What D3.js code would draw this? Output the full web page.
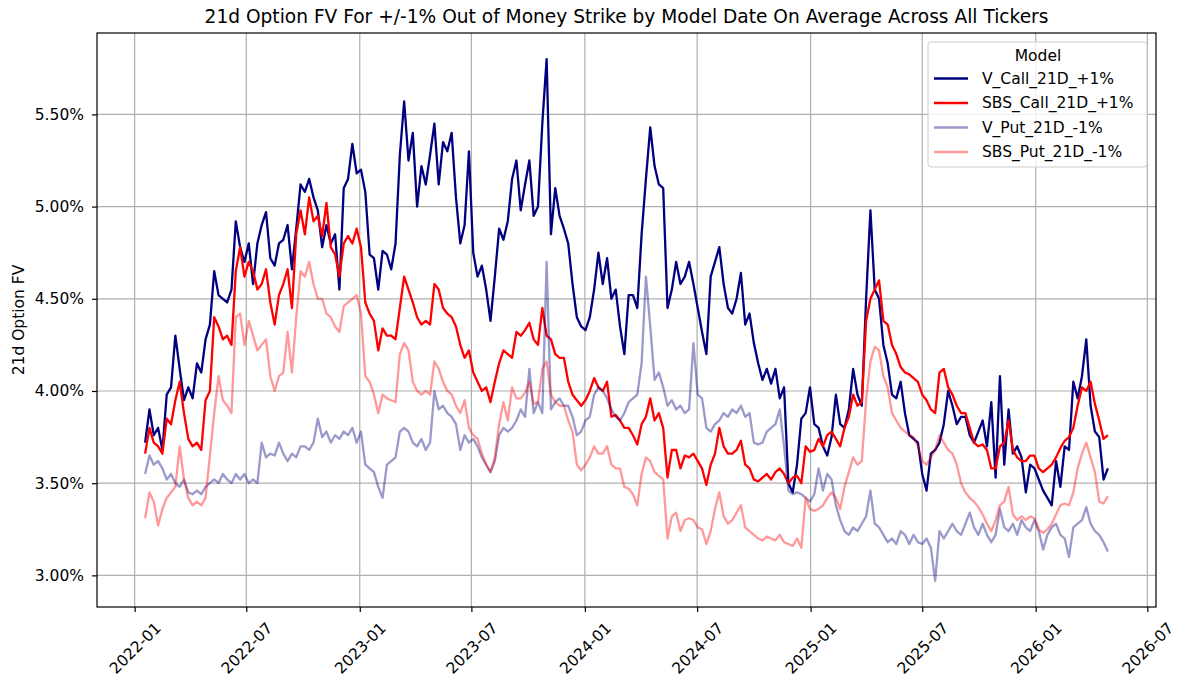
<!DOCTYPE html>
<html>
<head>
<meta charset="utf-8">
<script src="https://cdn.jsdelivr.net/npm/d3@7"></script>
<style>
body { margin: 0; background: #fff; }
svg text { font-family: "DejaVu Sans", sans-serif; fill: #000; }
</style>
</head>
<body>
<svg width="1177" height="682"></svg>
<script>
// weekly samples, starting 2022-01-18
var startDate = new Date(2022, 0, 18);
var stepDays = 7;

var vCall = [
  3.72,3.90,3.76,3.80,3.68,3.98,4.02,4.30,4.12,3.95,
  4.02,3.96,4.15,4.10,4.28,4.36,4.65,4.52,4.50,4.48,
  4.55,4.92,4.78,4.70,4.80,4.58,4.80,4.90,4.97,4.72,
  4.68,4.80,4.82,4.90,4.66,4.88,5.12,5.08,5.15,5.05,
  4.98,4.78,4.90,4.80,4.85,4.55,5.10,5.15,5.34,5.18,
  5.20,5.08,4.74,4.72,4.55,4.76,4.74,4.66,4.80,5.28,
  5.57,5.25,5.40,5.00,5.22,5.12,5.28,5.45,5.12,5.35,
  5.30,5.40,5.05,4.80,4.90,5.30,4.75,4.62,4.68,4.55,
  4.38,4.62,4.88,4.82,4.92,5.15,5.25,4.98,5.12,5.25,
  4.95,5.00,5.45,5.80,4.85,5.10,4.95,4.88,4.80,4.58,
  4.40,4.35,4.33,4.40,4.55,4.75,4.58,4.72,4.50,4.55,
  4.35,4.20,4.52,4.52,4.45,4.85,5.15,5.43,5.22,5.12,
  5.10,4.45,4.55,4.70,4.58,4.62,4.70,4.58,4.45,4.32,
  4.20,4.62,4.70,4.78,4.58,4.45,4.42,4.50,4.64,4.36,
  4.42,4.26,4.15,4.06,4.12,4.04,4.12,3.96,4.02,3.50,
  3.45,3.60,3.85,3.88,4.02,3.82,3.80,3.70,3.65,3.75,
  3.98,3.82,3.80,3.90,4.12,3.98,3.92,4.50,4.98,4.55,
  4.50,4.25,4.15,3.98,3.96,4.05,3.88,3.76,3.74,3.72,
  3.55,3.46,3.66,3.68,3.72,3.82,4.00,3.92,3.82,3.86,
  3.86,3.76,3.72,3.78,3.84,3.70,3.94,3.53,4.08,3.60,
  3.90,3.66,3.70,3.64,3.45,3.60,3.58,3.52,3.46,3.42,
  3.38,3.62,3.48,3.70,3.68,4.05,3.96,4.08,4.28,3.92,
  3.78,3.75,3.52,3.58
];

var sbsCall = [
  3.66,3.80,3.72,3.70,3.66,3.85,3.82,3.95,4.05,3.88,
  3.74,3.70,3.72,3.68,3.95,4.00,4.40,4.35,4.28,4.30,
  4.25,4.65,4.78,4.62,4.70,4.65,4.55,4.58,4.66,4.48,
  4.36,4.52,4.58,4.66,4.45,4.85,4.98,4.85,5.05,4.92,
  4.95,4.84,5.02,4.78,4.74,4.62,4.80,4.84,4.80,4.88,
  4.78,4.48,4.42,4.38,4.22,4.34,4.30,4.30,4.28,4.45,
  4.62,4.55,4.48,4.40,4.36,4.38,4.36,4.58,4.55,4.45,
  4.42,4.40,4.35,4.25,4.18,4.22,4.10,4.05,4.00,4.02,
  3.94,4.05,4.15,4.22,4.20,4.18,4.32,4.30,4.33,4.37,
  4.28,4.25,4.45,4.30,4.28,4.20,4.18,4.18,4.05,3.98,
  3.95,3.92,3.95,4.00,4.07,4.02,4.00,4.05,3.86,3.87,
  3.84,3.80,3.80,3.76,3.71,3.82,3.86,3.96,3.84,3.88,
  3.80,3.53,3.68,3.68,3.58,3.65,3.64,3.66,3.62,3.58,
  3.49,3.60,3.66,3.80,3.70,3.66,3.66,3.68,3.73,3.60,
  3.58,3.52,3.51,3.53,3.55,3.52,3.56,3.58,3.55,3.50,
  3.53,3.54,3.50,3.70,3.67,3.68,3.74,3.70,3.76,3.78,
  3.74,3.70,3.80,3.86,3.98,3.92,3.94,4.38,4.50,4.55,
  4.60,4.38,4.36,4.25,4.20,4.13,4.10,4.09,4.07,4.05,
  3.98,3.95,3.90,3.88,4.10,4.12,4.02,3.98,3.92,3.88,
  3.88,3.80,3.72,3.70,3.71,3.68,3.58,3.58,3.70,3.72,
  3.84,3.68,3.64,3.62,3.62,3.65,3.65,3.58,3.56,3.58,
  3.60,3.64,3.69,3.73,3.75,3.80,3.92,4.02,4.00,4.05,
  3.93,3.84,3.74,3.76
];

var vPut = [
  3.55,3.65,3.60,3.62,3.58,3.52,3.55,3.50,3.48,3.52,
  3.45,3.44,3.46,3.44,3.48,3.50,3.52,3.50,3.55,3.52,
  3.50,3.55,3.52,3.55,3.50,3.52,3.50,3.72,3.64,3.66,
  3.65,3.72,3.66,3.62,3.66,3.64,3.70,3.70,3.68,3.72,
  3.85,3.75,3.78,3.72,3.76,3.74,3.78,3.76,3.80,3.72,
  3.78,3.60,3.58,3.56,3.48,3.42,3.60,3.62,3.64,3.78,
  3.80,3.78,3.72,3.70,3.74,3.68,3.72,4.00,3.90,3.92,
  3.88,3.86,3.82,3.68,3.76,3.72,3.74,3.70,3.64,3.60,
  3.56,3.62,3.76,3.80,3.78,3.80,3.84,3.90,3.86,4.12,
  3.88,3.94,3.88,4.70,3.90,3.94,3.96,3.92,3.92,3.86,
  3.76,3.78,3.84,3.86,3.98,4.02,4.00,3.96,3.90,3.86,
  3.84,3.88,3.94,3.96,3.98,4.15,4.62,4.35,4.06,4.10,
  4.02,3.92,3.95,3.90,3.92,3.88,3.90,4.26,3.98,3.96,
  3.80,3.78,3.82,3.84,3.88,3.86,3.90,3.88,3.92,3.86,
  3.88,3.72,3.71,3.72,3.78,3.80,3.82,3.90,3.70,3.46,
  3.44,3.45,3.44,3.42,3.40,3.44,3.58,3.46,3.55,3.52,
  3.38,3.30,3.24,3.22,3.26,3.24,3.28,3.32,3.46,3.28,
  3.26,3.22,3.18,3.20,3.17,3.24,3.22,3.17,3.22,3.18,
  3.17,3.20,3.15,2.97,3.24,3.20,3.24,3.28,3.24,3.22,
  3.28,3.34,3.26,3.22,3.28,3.22,3.18,3.22,3.36,3.26,
  3.24,3.28,3.22,3.30,3.26,3.24,3.30,3.24,3.14,3.22,
  3.26,3.28,3.22,3.20,3.10,3.26,3.28,3.30,3.37,3.28,
  3.24,3.22,3.18,3.13
];

var sbsPut = [
  3.31,3.45,3.40,3.27,3.36,3.42,3.45,3.48,3.70,3.52,
  3.42,3.38,3.40,3.38,3.42,3.65,3.88,4.08,3.95,3.92,
  3.88,4.40,4.42,4.25,4.38,4.30,4.22,4.25,4.28,4.08,
  4.00,4.08,4.10,4.32,4.10,4.40,4.65,4.62,4.70,4.58,
  4.50,4.50,4.42,4.40,4.35,4.32,4.46,4.48,4.50,4.52,
  4.42,4.08,4.05,3.98,3.88,3.98,3.96,3.95,3.94,4.20,
  4.26,4.22,4.05,4.00,3.98,4.00,3.98,4.16,4.12,4.05,
  4.00,3.98,3.92,3.88,3.95,3.80,3.76,3.74,3.66,3.60,
  3.56,3.64,3.82,3.94,3.84,4.02,3.96,3.96,3.99,4.05,
  3.93,3.94,4.12,4.16,3.98,3.94,3.92,3.92,3.84,3.78,
  3.60,3.57,3.60,3.64,3.70,3.66,3.66,3.70,3.60,3.58,
  3.58,3.48,3.47,3.44,3.38,3.55,3.64,3.62,3.56,3.54,
  3.52,3.20,3.32,3.34,3.24,3.30,3.31,3.30,3.26,3.25,
  3.17,3.24,3.36,3.45,3.32,3.28,3.30,3.34,3.38,3.26,
  3.24,3.22,3.20,3.19,3.21,3.20,3.19,3.22,3.18,3.17,
  3.16,3.20,3.15,3.42,3.36,3.35,3.36,3.38,3.42,3.45,
  3.42,3.36,3.48,3.56,3.64,3.60,3.62,3.95,4.16,4.24,
  4.22,4.08,4.02,3.88,3.84,3.80,3.78,3.76,3.75,3.70,
  3.62,3.60,3.64,3.68,3.76,3.72,3.68,3.66,3.60,3.50,
  3.45,3.42,3.40,3.37,3.33,3.28,3.24,3.30,3.38,3.40,
  3.48,3.33,3.30,3.32,3.30,3.32,3.31,3.25,3.23,3.25,
  3.28,3.33,3.38,3.39,3.38,3.45,3.58,3.66,3.72,3.64,
  3.56,3.40,3.39,3.43
];

var seriesNames = ["V_Call_21D_+1%", "SBS_Call_21D_+1%", "V_Put_21D_-1%", "SBS_Put_21D_-1%"];
var seriesValues = [vCall, sbsCall, vPut, sbsPut];
var seriesColors = ["#000080", "#ff0000", "#000080", "#ff0000"];
var seriesAlpha = [1, 1, 0.4, 0.4];

var yTicks = [3.0, 3.5, 4.0, 4.5, 5.0, 5.5];
var xTickLabels = ["2022-01","2022-07","2023-01","2023-07","2024-01","2024-07","2025-01","2025-07","2026-01","2026-07"];

var dates = vCall.map(function(d, i) { return d3.timeDay.offset(startDate, i * stepDays); });

var W = 1177, H = 682;
var margin = {top: 33, right: 21, bottom: 75, left: 97};
var pw = W - margin.left - margin.right;
var ph = H - margin.top - margin.bottom;

var svg = d3.select("svg");
var g = svg.append("g").attr("transform", "translate(" + margin.left + "," + margin.top + ")");

// matplotlib style 5% padding
var xExt = d3.extent(dates);
var xPad = (xExt[1] - xExt[0]) * 0.05;
var x = d3.scaleTime()
  .domain([new Date(+xExt[0] - xPad), new Date(+xExt[1] + xPad)])
  .range([0, pw]);

var allVals = d3.merge(seriesValues);
var yExt = d3.extent(allVals);
var yPad = (yExt[1] - yExt[0]) * 0.05;
var y = d3.scaleLinear().domain([yExt[0] - yPad, yExt[1] + yPad]).range([ph, 0]);

var parseMonth = d3.timeParse("%Y-%m");
var xTicks = xTickLabels.map(parseMonth);

// grid
g.append("g").selectAll("line").data(xTicks).enter().append("line")
  .attr("x1", function(d) { return x(d); }).attr("x2", function(d) { return x(d); })
  .attr("y1", 0).attr("y2", ph)
  .attr("stroke", "#b0b0b0").attr("stroke-width", 1.2);
g.append("g").selectAll("line").data(yTicks).enter().append("line")
  .attr("x1", 0).attr("x2", pw)
  .attr("y1", function(d) { return y(d); }).attr("y2", function(d) { return y(d); })
  .attr("stroke", "#b0b0b0").attr("stroke-width", 1.2);

// lines
var line = d3.line()
  .x(function(d, i) { return x(dates[i]); })
  .y(function(d) { return y(d); });

seriesValues.forEach(function(vals, k) {
  g.append("path")
    .datum(vals)
    .attr("fill", "none")
    .attr("stroke", seriesColors[k])
    .attr("stroke-opacity", seriesAlpha[k])
    .attr("stroke-width", 2.3)
    .attr("stroke-linejoin", "round")
    .attr("d", line);
});

// axes
var xAxis = g.append("g")
  .attr("transform", "translate(0," + ph + ")")
  .call(d3.axisBottom(x).tickValues(xTicks).tickFormat(d3.timeFormat("%Y-%m")).tickSize(5).tickSizeOuter(0));
xAxis.select(".domain").remove();
xAxis.selectAll("line").attr("stroke", "#000").attr("stroke-width", 1.2);
xAxis.selectAll("text")
  .attr("font-size", 15.5)
  .attr("font-family", "DejaVu Sans")
  .attr("y", 0).attr("dy", "0.35em")
  .attr("text-anchor", "middle")
  .attr("transform", "translate(0,41) rotate(-45)");

var yAxis = g.append("g")
  .call(d3.axisLeft(y).tickValues(yTicks).tickFormat(function(d) { return d.toFixed(2) + "%"; }).tickSize(5).tickPadding(8).tickSizeOuter(0));
yAxis.select(".domain").remove();
yAxis.selectAll("line").attr("stroke", "#000").attr("stroke-width", 1.2);
yAxis.selectAll("text").attr("font-size", 15.5).attr("font-family", "DejaVu Sans");

// frame
g.append("rect")
  .attr("x", 0).attr("y", 0).attr("width", pw).attr("height", ph)
  .attr("fill", "none").attr("stroke", "#000").attr("stroke-width", 1.2);

// title and y label
svg.append("text")
  .attr("x", margin.left + pw / 2).attr("y", 23)
  .attr("text-anchor", "middle")
  .attr("font-size", 18.6)
  .text("21d Option FV For +/-1% Out of Money Strike by Model Date On Average Across All Tickers");

svg.append("text")
  .attr("transform", "translate(24," + (margin.top + ph / 2) + ") rotate(-90)")
  .attr("text-anchor", "middle")
  .attr("font-size", 15.5)
  .text("21d Option FV");

// legend
var lg = svg.append("g").attr("transform", "translate(928,42)");
lg.append("rect")
  .attr("width", 219).attr("height", 125).attr("rx", 3)
  .attr("fill", "#fff").attr("fill-opacity", 0.8)
  .attr("stroke", "#cccccc").attr("stroke-width", 1);
lg.append("text")
  .attr("x", 110).attr("y", 14).attr("dy", "0.35em")
  .attr("text-anchor", "middle").attr("font-size", 15.5)
  .text("Model");
var items = lg.selectAll(".item").data(seriesNames).enter().append("g")
  .attr("class", "item")
  .attr("transform", function(d, i) { return "translate(0," + (36.5 + i * 24.5) + ")"; });
items.append("line")
  .attr("x1", 6).attr("x2", 40).attr("y1", 0).attr("y2", 0)
  .attr("stroke", function(d, i) { return seriesColors[i]; })
  .attr("stroke-opacity", function(d, i) { return seriesAlpha[i]; })
  .attr("stroke-width", 2.3);
items.append("text")
  .attr("x", 54).attr("dy", "0.35em").attr("font-size", 15.5)
  .text(function(d) { return d; });
</script>
</body>
</html>
